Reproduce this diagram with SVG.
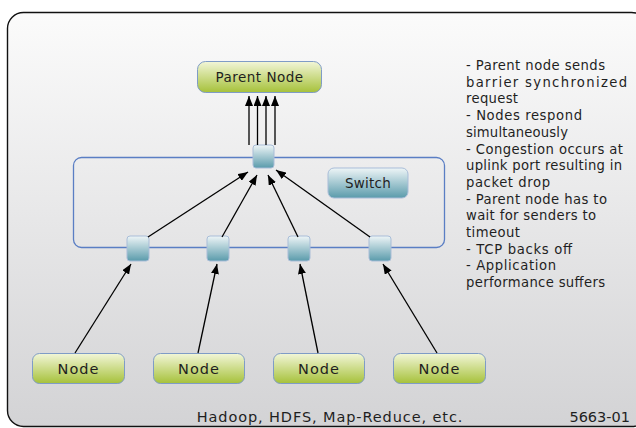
<svg xmlns="http://www.w3.org/2000/svg" width="636" height="428" viewBox="0 0 636 428">
<defs>
<linearGradient id="bg" x1="0" y1="0" x2="0" y2="1"><stop offset="0" stop-color="#fbfbfb"/><stop offset="1" stop-color="#d3d3d5"/></linearGradient>
<linearGradient id="green" x1="0" y1="0" x2="0" y2="1"><stop offset="0" stop-color="#f2f6d8"/><stop offset="1" stop-color="#a6c13a"/></linearGradient>
<linearGradient id="teal" x1="0" y1="0" x2="0" y2="1"><stop offset="0" stop-color="#eef5f7"/><stop offset="1" stop-color="#5a9bab"/></linearGradient>
<marker id="ah" viewBox="0 0 10 8" refX="10" refY="4" markerWidth="10" markerHeight="8" markerUnits="userSpaceOnUse" orient="auto"><path d="M0,0 L10,4 L0,8 z" fill="#000"/></marker>
<style>
.node rect{fill:url(#green);stroke:#7f9cc6;stroke-width:1}
.port{fill:url(#teal);stroke:#a9bdd8;stroke-width:1}
.t{font-family:"DejaVu Sans",sans-serif;fill:#1f1f1f}
.c line{stroke:#000;stroke-width:1.3;marker-end:url(#ah)}
</style>
</defs>
<rect x="7.5" y="12.5" width="640" height="414" rx="16" fill="url(#bg)" stroke="#111" stroke-width="1.4"/>
<g id="switch">
<rect x="73.5" y="157.5" width="371" height="90" rx="8" fill="none" stroke="#5a7ec4" stroke-width="1.3"/>
<rect x="328" y="168" width="80" height="30" rx="6" fill="url(#teal)" stroke="#a9bdd8"/>
<text class="t" x="368" y="188" text-anchor="middle" font-size="13.5" fill="#1c2b4a" letter-spacing="0.2">Switch</text>
</g>
<g id="parent" class="node">
<rect x="197.5" y="61.5" width="124" height="31" rx="8"/>
<text class="t" x="259.5" y="82" text-anchor="middle" font-size="13.5" letter-spacing="0.5">Parent Node</text>
</g>
<g id="ports">
<rect id="port-top" class="port" x="253" y="145" width="21" height="23" rx="3"/>
<rect id="port-1" class="port" x="127" y="236" width="22" height="25" rx="3"/>
<rect id="port-2" class="port" x="207" y="236" width="22" height="25" rx="3"/>
<rect id="port-3" class="port" x="288" y="236" width="22" height="25" rx="3"/>
<rect id="port-4" class="port" x="369" y="236" width="22" height="25" rx="3"/>
</g>
<g id="node-1" class="node"><rect x="32.5" y="353.5" width="92" height="30" rx="7"/><text class="t" x="78.5" y="374" text-anchor="middle" font-size="14.5" letter-spacing="1">Node</text></g>
<g id="node-2" class="node"><rect x="153.5" y="353.5" width="91" height="30" rx="7"/><text class="t" x="199" y="374" text-anchor="middle" font-size="14.5" letter-spacing="1">Node</text></g>
<g id="node-3" class="node"><rect x="273.5" y="353.5" width="91" height="30" rx="7"/><text class="t" x="319" y="374" text-anchor="middle" font-size="14.5" letter-spacing="1">Node</text></g>
<g id="node-4" class="node"><rect x="393.5" y="353.5" width="92" height="30" rx="7"/><text class="t" x="439.5" y="374" text-anchor="middle" font-size="14.5" letter-spacing="1">Node</text></g>
<g id="connectors" class="c">
<line x1="249" y1="145" x2="249" y2="96"/>
<line x1="257.5" y1="145" x2="257.5" y2="96"/>
<line x1="266" y1="145" x2="266" y2="96"/>
<line x1="275" y1="145" x2="275" y2="96"/>
<line x1="148" y1="237" x2="248" y2="172"/>
<line x1="222" y1="237" x2="257" y2="175"/>
<line x1="298" y1="237" x2="268" y2="175"/>
<line x1="370" y1="237" x2="276" y2="170"/>
<line x1="75" y1="353" x2="131" y2="264"/>
<line x1="198" y1="353" x2="217" y2="264"/>
<line x1="318" y1="353" x2="300" y2="264"/>
<line x1="437" y1="353" x2="383" y2="264"/>
</g>
<g id="notes" class="t" font-size="13.2">
<text x="466" y="70" textLength="139" lengthAdjust="spacing">- Parent node sends</text>
<text x="466" y="86.7" textLength="161" lengthAdjust="spacing">barrier synchronized</text>
<text x="466" y="103.4" textLength="52" lengthAdjust="spacing">request</text>
<text x="466" y="120.1" textLength="116" lengthAdjust="spacing">- Nodes respond</text>
<text x="466" y="136.8" textLength="102" lengthAdjust="spacing">simultaneously</text>
<text x="466" y="153.5" textLength="157" lengthAdjust="spacing">- Congestion occurs at</text>
<text x="466" y="170.2" textLength="156" lengthAdjust="spacing">uplink port resulting in</text>
<text x="466" y="186.9" textLength="84" lengthAdjust="spacing">packet drop</text>
<text x="466" y="203.6" textLength="141" lengthAdjust="spacing">- Parent node has to</text>
<text x="466" y="220.3" textLength="130" lengthAdjust="spacing">wait for senders to</text>
<text x="466" y="237" textLength="54" lengthAdjust="spacing">timeout</text>
<text x="466" y="253.7" textLength="106" lengthAdjust="spacing">- TCP backs off</text>
<text x="466" y="270.4" textLength="90" lengthAdjust="spacing">- Application</text>
<text x="466" y="287.1" textLength="139" lengthAdjust="spacing">performance suffers</text>
</g>
<text class="t" x="330" y="422" text-anchor="middle" font-size="14.5" letter-spacing="0.9">Hadoop, HDFS, Map-Reduce, etc.</text>
<text class="t" x="630" y="422" text-anchor="end" font-size="14.5" fill="#8a8a8a">5663-01</text>
</svg>
